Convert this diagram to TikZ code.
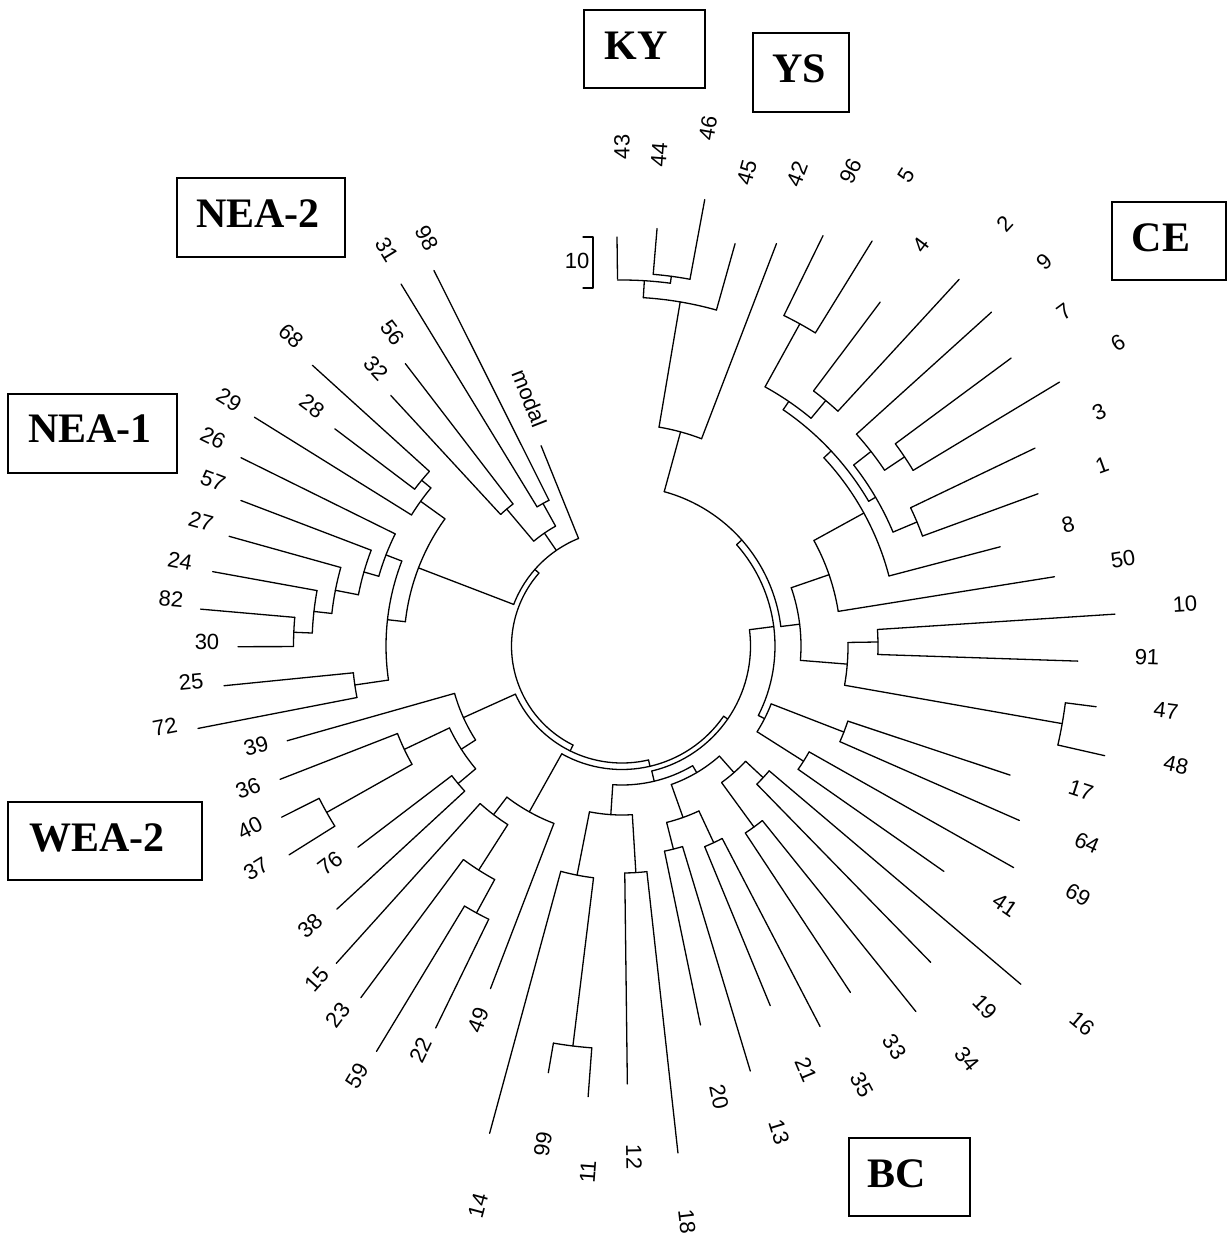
\documentclass[tikz,border=0pt]{standalone}
\usepackage{fontspec}
\setmainfont{Liberation Serif}
\newfontfamily\lsans{Liberation Sans}
% polar helpers around the tree centre (C)
\newcommand\dgline[3]{\draw[br] ([shift={(C)}]#1:#2) -- ([shift={(C)}]#1:#3);}
\newcommand\dgarc[3]{\draw[br] ([shift={(C)}]#1:#3) arc[start angle=#1, end angle=#2, radius=#3];}
% internal node: arc from #1 to #2 at radius #3, stem at angle #4 from #3 to #5
\newcommand\dgnode[5]{\dgarc{#1}{#2}{#3}\dgline{#4}{#3}{#5}}
\begin{document}
\begin{tikzpicture}[x=1pt,y=1pt,
  br/.style={line width=1.3pt, line cap=round, line join=round},
  lab/.style={font=\lsans\fontsize{22}{26}\selectfont, inner sep=0pt},
  grpbox/.style={draw, line width=1.6pt, inner sep=0pt},
  grptext/.style={font=\bfseries\fontsize{42}{48}\selectfont, inner sep=0pt}]
\path[use as bounding box] (0,-1237) rectangle (1228,0);
\coordinate (C) at (622,-646);

% ---- leaves: angle, inner radius, tip radius
\dgline{90.7}{367}{409}   % 43
\dgline{85.2}{373}{419}   % 44
\dgline{79.5}{373}{454}   % 46
\dgline{74.3}{349}{418}   % 45
\dgline{69.0}{222}{431}   % 42
\dgline{63.9}{368}{457}   % 96
\dgline{58.3}{368}{476}   % 5
\dgline{53.1}{319}{430}   % 4
\dgline{47.4}{319}{498}   % 2
\dgline{42.1}{316}{498}   % 9
\dgline{36.5}{340}{484}   % 7
\dgline{31.1}{340}{511}   % 6
\dgline{25.6}{320}{458}   % 3
\dgline{20.1}{320}{443}   % 1
\dgline{14.7}{276}{391}   % 8
\dgline{9.1}{219}{438}    % 50
\dgline{3.7}{256}{494}    % 10
\dgline{-1.9}{256}{456}   % 91
\dgline{-7.3}{447}{478}   % 47
\dgline{-12.8}{447}{495}  % 48
\dgline{-18.4}{238}{409}  % 17
\dgline{-23.7}{238}{434}  % 64
\dgline{-29.5}{215}{450}  % 69
\dgline{-35}{215}{393}    % 41
\dgline{-40.3}{193}{523}  % 16
\dgline{-45.7}{193}{442}  % 19
\dgline{-51.2}{224}{469}  % 34
\dgline{-56.6}{224}{415}  % 33
\dgline{-62.5}{217}{429}  % 35
\dgline{-67.6}{217}{389}  % 21
\dgline{-73.2}{209.5}{444} % 13
\dgline{-78.3}{209.5}{387} % 20
\dgline{-83.7}{227}{510}  % 18
\dgline{-89.3}{227}{438}  % 12
\dgline{-94.3}{403}{452}  % 11
\dgline{-99.8}{403}{433}  % 99
\dgline{-105.2}{233.5}{505} % 14
\dgline{-111}{190}{367}   % 49
\dgline{-116}{304}{425}   % 22
\dgline{-121.2}{304}{474} % 59
\dgline{-126.6}{266}{438} % 23
\dgline{-132}{212}{427}   % 15
\dgline{-137.3}{214}{388} % 38
\dgline{-142.7}{214}{332} % 76
\dgline{-147.9}{339}{393} % 37
\dgline{-153.3}{339}{381} % 40
\dgline{-158.7}{241}{367} % 36
\dgline{-164.2}{174}{348} % 39
\dgline{191}{270}{432}    % 72
\dgline{185.7}{270}{400}  % 25
\dgline{180.1}{328.5}{384} % 30
\dgline{175}{328.5}{423}  % 82
\dgline{169.7}{310}{416}  % 24
\dgline{164.4}{292}{408}  % 27
\dgline{159.1}{268.5}{408} % 57
\dgline{153.7}{253}{425}  % 26
\dgline{148.1}{248}{433}  % 29
\dgline{142.9}{260}{360}  % 28
\dgline{137.8}{260}{418}  % 68
\dgline{132.7}{179}{341}  % 32
\dgline{127.5}{179}{356}  % 56
\dgline{121.4}{163}{424}  % 31
\dgline{116.6}{163}{420}  % 98
\dgline{112}{116}{216}    % modal

% ---- internal nodes: KY / YS
\dgnode{85.2}{79.5}{373}{82.4}{366}
\dgnode{90.7}{82.4}{366}{86.5}{349}
\dgnode{86.5}{74.3}{349}{80.4}{222}
\dgnode{80.4}{69.0}{222}{74.7}{160}
% CE
\dgnode{63.9}{58.3}{368}{61.1}{296}
\dgnode{53.1}{47.4}{319}{50.3}{296}
\dgnode{61.1}{50.3}{296}{55.7}{286}
\dgnode{36.5}{31.1}{340}{33.8}{316}
\dgnode{42.1}{33.8}{316}{38}{294}
\dgnode{25.6}{20.1}{320}{22.8}{294}
\dgnode{38}{22.8}{294}{30.4}{286}
\dgnode{55.7}{30.4}{286}{43}{276}
\dgnode{43}{14.7}{276}{28.8}{219}
\dgnode{28.8}{9.1}{219}{19}{179}
\dgnode{3.7}{-1.9}{256}{0.9}{226}
\dgnode{-7.3}{-12.8}{447}{-10}{226}
\dgnode{0.9}{-10}{226}{-4.6}{179}
\dgnode{19}{-4.6}{179}{7}{160}
\dgnode{74.7}{7}{160}{41.5}{153}
\dgnode{-18.4}{-23.7}{238}{-21.2}{160}
\dgnode{-29.5}{-35}{215}{-32.4}{160}
\dgnode{-21.2}{-32.4}{160}{-27}{153}
\dgnode{41.5}{-27}{153}{7.3}{128.5}
% BC
\dgnode{-78.3}{-73.2}{209.5}{-75.8}{182}
\dgnode{-67.6}{-62.5}{217}{-65}{182}
\dgnode{-75.8}{-65}{182}{-70.4}{147}
\dgnode{-56.6}{-51.2}{224}{-53.9}{169}
\dgnode{-45.7}{-40.3}{193}{-43}{169}
\dgnode{-53.9}{-43}{169}{-48.5}{147}
\dgnode{-70.4}{-48.5}{147}{-59.45}{139}
% bottom
\dgnode{-89.3}{-83.7}{227}{-86.5}{169}
\dgnode{-99.8}{-94.3}{403}{-97}{233.5}
\dgnode{-105.2}{-97}{233.5}{-101.1}{169}
\dgnode{-101.1}{-86.5}{169}{-93.8}{139}
\dgnode{-93.8}{-59.45}{139}{-76.6}{128.5}
% WEA-2
\dgnode{-121.2}{-116}{304}{-118.6}{266}
\dgnode{-126.6}{-118.6}{266}{-122.6}{212}
\dgnode{-132}{-122.6}{212}{-127.3}{190}
\dgnode{-127.3}{-111}{190}{-119.2}{123.5}
\dgnode{-142.7}{-137.3}{214}{-140}{191}
\dgnode{-153.3}{-147.9}{339}{-150.6}{241}
\dgnode{-158.7}{-150.6}{241}{-154.6}{191}
\dgnode{-154.6}{-140}{191}{-147.3}{174}
\dgnode{-164.2}{-147.3}{174}{-155.7}{117}
% NEA-1
\dgnode{185.7}{191}{270}{188.3}{236}
\dgnode{175}{180.1}{328.5}{177.6}{310}
\dgnode{169.7}{177.6}{310}{173.6}{292}
\dgnode{164.4}{173.6}{292}{169}{268.5}
\dgnode{159.1}{169}{268.5}{164}{253}
\dgnode{153.7}{164}{253}{158.9}{236}
\dgnode{158.9}{188.3}{236}{173.6}{218}
\dgnode{137.8}{142.9}{260}{140.4}{248}
\dgnode{140.4}{148.1}{248}{144.3}{218}
\dgnode{144.3}{173.6}{218}{159}{116}
% NEA-2
\dgnode{127.5}{132.7}{179}{130.1}{137}
\dgnode{116.6}{121.4}{163}{119}{137}
\dgnode{119}{130.1}{137}{124.5}{116}
% central nested arcs
\dgnode{112}{159}{116}{138.7}{110.5}
\dgnode{7.3}{-76.6}{128.5}{-34.65}{123.5}
\dgnode{-119.2}{-34.65}{123.5}{-76.9}{117}
\dgnode{-155.7}{-76.9}{117}{-116.3}{110.5}
\dgarc{138.7}{243.7}{110.5}

% ---- scale bar
\draw[br] (583,-237) -- (593,-237) -- (593,-288) -- (583,-288);
\node[lab] (sc) at (577,-261) {10};

% ---- leaf labels
\node[lab, rotate=90.7]  (l43) at (622,-147) {43};
\node[lab, rotate=85.5]  (l44) at (659,-155) {44};
\node[lab, rotate=80]    (l46) at (708,-128) {46};
\node[lab, rotate=74.7]  (l45) at (747,-173) {45};
\node[lab, rotate=69]    (l42) at (797,-174) {42};
\node[lab, rotate=64]    (l96) at (851,-171) {96};
\node[lab, rotate=58]    (l5)  at (906,-175) {5};
\node[lab, rotate=53]    (l4)  at (921,-245) {4};
\node[lab, rotate=47.5]  (l2)  at (1005,-224) {2};
\node[lab, rotate=42]    (l9)  at (1044,-262) {9};
\node[lab, rotate=36.5]  (l7)  at (1064,-312) {7};
\node[lab, rotate=31]    (l6)  at (1118,-343) {6};
\node[lab, rotate=25.5]  (l3)  at (1099,-412) {3};
\node[lab, rotate=20]    (l1)  at (1102,-465) {1};
\node[lab, rotate=14.7]  (l8)  at (1068,-525) {8};
\node[lab, rotate=9]     (l50) at (1123,-559) {50};
\node[lab, rotate=3.6]   (l10) at (1185,-604) {10};
\node[lab, rotate=-2]    (l91) at (1147,-657) {91};
\node[lab, rotate=-7.3]  (l47) at (1166,-711) {47};
\node[lab, rotate=-12.8] (l48) at (1176,-765) {48};
\node[lab, rotate=-18]   (l17) at (1081,-790) {17};
\node[lab, rotate=-23.5] (l64) at (1087,-843) {64};
\node[lab, rotate=-29]   (l69) at (1078,-895) {69};
\node[lab, rotate=-34.5] (l41) at (1005,-905) {41};
\node[lab, rotate=-40]   (l16) at (1082,-1024) {16};
\node[lab, rotate=-45.6] (l19) at (985,-1007) {19};
\node[lab, rotate=-51]   (l34) at (967,-1059) {34};
\node[lab, rotate=-56.5] (l33) at (895,-1047) {33};
\node[lab, rotate=-62]   (l35) at (862,-1085) {35};
\node[lab, rotate=-67.3] (l21) at (806,-1070) {21};
\node[lab, rotate=-72.8] (l13) at (779,-1132) {13};
\node[lab, rotate=-78]   (l20) at (719,-1097) {20};
\node[lab, rotate=-83.3] (l18) at (687,-1222) {18};
\node[lab, rotate=-89]   (l12) at (634,-1157) {12};
\node[lab, rotate=85.7]  (l11) at (588,-1172) {11};
\node[lab, rotate=80.3]  (l99) at (543,-1144) {99};
\node[lab, rotate=75]    (l14) at (478,-1206) {14};
\node[lab, rotate=69.4]  (l49) at (478,-1020) {49};
\node[lab, rotate=64]    (l22) at (421,-1050) {22};
\node[lab, rotate=59]    (l59) at (357,-1076) {59};
\node[lab, rotate=53.6]  (l23) at (338,-1015) {23};
\node[lab, rotate=48]    (l15) at (317,-979) {15};
\node[lab, rotate=42.7]  (l38) at (310,-926) {38};
\node[lab, rotate=37.3]  (l76) at (330,-863) {76};
\node[lab, rotate=32]    (l37) at (256,-869) {37};
\node[lab, rotate=26.7]  (l40) at (250,-828) {40};
\node[lab, rotate=21.3]  (l36) at (248,-788) {36};
\node[lab, rotate=16]    (l39) at (256,-746) {39};
\node[lab, rotate=11]    (l72) at (165,-727) {72};
\node[lab, rotate=5.7]   (l25) at (191,-682) {25};
\node[lab]               (l30) at (207,-642) {30};
\node[lab, rotate=-5.2]  (l82) at (171,-599) {82};
\node[lab, rotate=-10.3] (l24) at (180,-561) {24};
\node[lab, rotate=-15.6] (l27) at (201,-521) {27};
\node[lab, rotate=-21]   (l57) at (213,-481) {57};
\node[lab, rotate=-26.4] (l26) at (213,-438) {26};
\node[lab, rotate=-31.8] (l29) at (229,-400) {29};
\node[lab, rotate=-37]   (l28) at (312,-406) {28};
\node[lab, rotate=-42.4] (l68) at (291,-336) {68};
\node[lab, rotate=-47.5] (l32) at (376,-368) {32};
\node[lab, rotate=-52.5] (l56) at (393,-333) {56};
\node[lab, rotate=-58.5] (l31) at (387,-250) {31};
\node[lab, rotate=-63.7] (l98) at (427,-238) {98};
\node[lab, rotate=-68.5] (lmodal) at (530,-398) {modal};

% ---- group boxes
\node[grpbox, minimum width=121pt, minimum height=78pt] (bKY) at (644.5,-49) {};
\node[grptext] (tKY) at (636,-46) {KY};
\node[grpbox, minimum width=96pt, minimum height=79pt] (bYS) at (801,-72.5) {};
\node[grptext] (tYS) at (799,-69) {YS};
\node[grpbox, minimum width=114pt, minimum height=78pt] (bCE) at (1169,-241) {};
\node[grptext] (tCE) at (1161,-238) {CE};
\node[grpbox, minimum width=168pt, minimum height=79pt] (bN2) at (261,-217.5) {};
\node[grptext] (tN2) at (258,-214) {NEA-2};
\node[grpbox, minimum width=169pt, minimum height=79pt] (bN1) at (92.5,-433.5) {};
\node[grptext] (tN1) at (90,-429) {NEA-1};
\node[grpbox, minimum width=194pt, minimum height=78pt] (bW2) at (105,-841) {};
\node[grptext] (tW2) at (97,-838) {WEA-2};
\node[grpbox, minimum width=121pt, minimum height=78pt] (bBC) at (909.5,-1177) {};
\node[grptext] (tBC) at (897,-1174) {BC};
\end{tikzpicture}
\end{document}
